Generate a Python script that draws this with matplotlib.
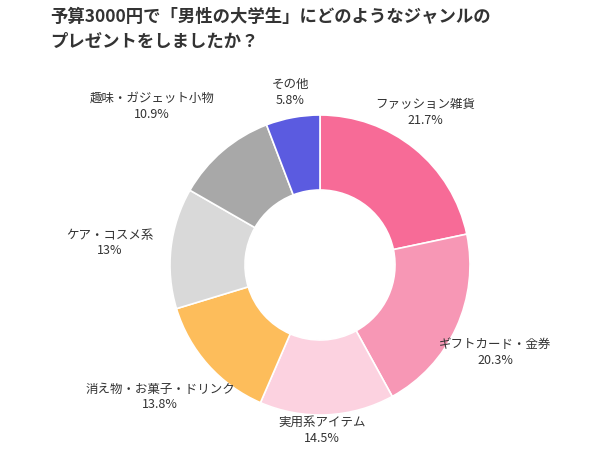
import matplotlib
matplotlib.use("Agg")
import matplotlib.pyplot as plt

categories = ["ファッション雑貨", "ギフトカード・金券", "実用系アイテム", "消え物・お菓子・ドリンク",
              "ケア・コスメ系", "趣味・ガジェット小物", "その他"]
values = [21.7, 20.3, 14.5, 13.8, 13, 10.9, 5.8]
value_labels = ["21.7%", "20.3%", "14.5%", "13.8%", "13%", "10.9%", "5.8%"]
colors = ["#f76b97", "#f797b5", "#fcd2e0", "#fdbd5b", "#d9d9d9", "#a8a8a8", "#5b5be0"]
label_pos = [(425, 112), (495, 352), (322, 430), (160, 397), (110, 243), (152, 106), (290, 92)]
title = "予算3000円で「男性の大学生」にどのようなジャンルの\nプレゼントをしましたか？"

plt.rcParams["font.family"] = "Noto Sans CJK JP"
fig = plt.figure(figsize=(6.02, 4.51), dpi=100)
ax = fig.add_axes([0, 0, 1, 1])
H = 451
ax.pie(values, colors=colors, startangle=90, counterclock=False,
       center=(320, H - 265), radius=150, frame=True,
       wedgeprops=dict(width=75, edgecolor="white", linewidth=1.2))
ax.set_xlim(0, 602)
ax.set_ylim(0, 451)
ax.set_aspect("auto")
ax.axis("off")
for c, v, (x, y) in zip(categories, value_labels, label_pos):
    ax.text(x, H - y, c + "\n" + v, ha="center", va="center", fontsize=9,
            color="#333333", linespacing=1.3)
fig.text(50 / 602, 1 - 8 / 451, title, ha="left", va="top", fontsize=12.5,
         fontweight="bold", color="#333333", linespacing=1.5)
fig.savefig("out.png", dpi=100, facecolor="white")
